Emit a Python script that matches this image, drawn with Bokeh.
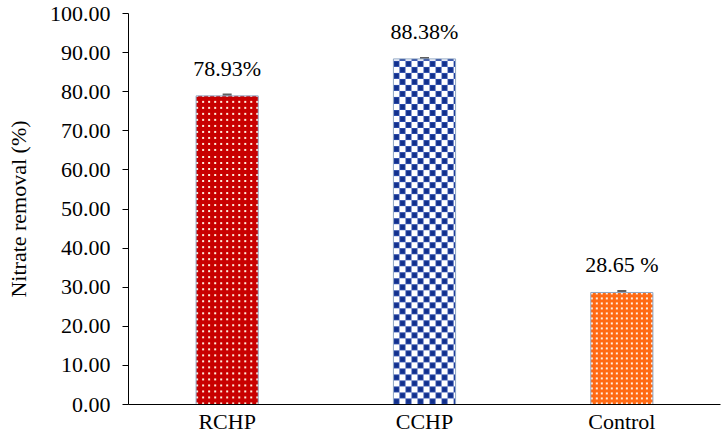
import numpy as np
from bokeh.plotting import figure
from bokeh.models import (ColumnDataSource, FactorRange, NumeralTickFormatter,
                          SingleIntervalTicker, LabelSet, Whisker, TeeHead)
from bokeh.embed import file_html
from bokeh.resources import INLINE

# ---- data ----
categories = ["RCHP", "CCHP", "Control"]
removal = [78.93, 88.38, 28.65]
errors = [0.3, 0.2, 0.3]
labels = ["78.93%", "88.38%", "28.65 %"]

# ---- styles ----
FONT = "Liberation Serif"
BAR_W = 0.315
PX_PER_Y = 3.9      # texture resolution (pixels per y unit)
BAR_PX = 62         # texture columns per bar


def texture(kind, rows, cols):
    img = np.zeros((rows, cols, 4), dtype=np.uint8)
    img[..., 3] = 255
    yy, xx = np.mgrid[0:rows, 0:cols]
    if kind == "red":
        img[..., :3] = (200, 0, 0)
        m = ((xx % 6) < 2) & ((yy % 6) < 2)
        img[m, :3] = (255, 238, 220)
    elif kind == "blue":
        img[..., :3] = (255, 255, 255)
        cx, cy = (xx // 6) % 2, (yy // 6) % 2
        m = cx == cy
        img[m, :3] = (40, 72, 168)
        inner = m & ((xx % 6) >= 1) & ((xx % 6) <= 4) & ((yy % 6) >= 1) & ((yy % 6) <= 4)
        img[inner, :3] = (18, 48, 140)
    else:
        img[..., :3] = (255, 106, 20)
        m = ((xx % 5) < 2) & ((yy % 5) < 2)
        img[m, :3] = (255, 240, 228)
    return img.view(np.uint32).reshape(rows, cols)


kinds = ["red", "blue", "orange"]
images = [texture(k, max(1, int(round(v * PX_PER_Y))), BAR_PX) for k, v in zip(kinds, removal)]

src = ColumnDataSource(dict(
    cat=categories, val=removal,
    lo=[v - e for v, e in zip(removal, errors)],
    hi=[v + e for v, e in zip(removal, errors)],
    lab=labels,
))
img_src = ColumnDataSource(dict(
    image=images,
    x=[i + 0.5 - BAR_W / 2 for i in range(len(categories))],
    y=[0] * len(categories),
    dw=[BAR_W] * len(categories),
    dh=removal,
))

p = figure(x_range=FactorRange(factors=categories, range_padding=0),
           y_range=(0, 100), width=726, height=436,
           output_backend="svg", toolbar_location=None,
           min_border_left=128, min_border_right=6, min_border_top=13, min_border_bottom=0)
p.outline_line_color = None
p.grid.visible = False
p.background_fill_color = "white"

p.image_rgba(image="image", x="x", y="y", dw="dw", dh="dh", source=img_src)
p.vbar(x="cat", top="val", width=BAR_W, source=src,
       fill_color=None, line_color="#8FA6C4", line_width=1)

w = Whisker(base="cat", lower="lo", upper="hi", source=src,
            line_color="#606060", line_width=1.5,
            upper_head=TeeHead(size=9, line_color="#606060", line_width=2.5),
            lower_head=TeeHead(size=9, line_color="#606060", line_width=2.5))
p.add_layout(w)

lbl = LabelSet(x="cat", y="val", text="lab", source=src, text_align="center",
               text_baseline="alphabetic", y_offset=20, text_font=FONT,
               text_font_size="22px", text_color="black")
p.add_layout(lbl)

# y axis
p.yaxis.ticker = SingleIntervalTicker(interval=10)
p.yaxis.formatter = NumeralTickFormatter(format="0.00")
p.yaxis.minor_tick_line_color = None
p.yaxis.major_tick_in = 0
p.yaxis.major_tick_out = 6
p.yaxis.major_label_standoff = 12
p.yaxis.axis_label = "Nitrate removal (%)"
p.yaxis.axis_label_standoff = 16
p.yaxis.axis_label_text_font = FONT
p.yaxis.axis_label_text_font_style = "normal"
p.yaxis.axis_label_text_font_size = "22px"
p.yaxis.axis_label_text_color = "black"
p.yaxis.major_label_text_font = FONT
p.yaxis.major_label_text_font_size = "22px"
p.yaxis.major_label_text_color = "black"
p.yaxis.axis_line_color = "black"
p.yaxis.major_tick_line_color = "black"

# x axis
p.xaxis.major_tick_line_color = None
p.xaxis.major_tick_in = 0
p.xaxis.major_tick_out = 0
p.xaxis.major_label_standoff = 4
p.xaxis.major_label_text_font = FONT
p.xaxis.major_label_text_font_size = "22px"
p.xaxis.major_label_text_color = "black"
p.xaxis.axis_line_color = "black"

open("out.html", "w").write(file_html(p, INLINE))
